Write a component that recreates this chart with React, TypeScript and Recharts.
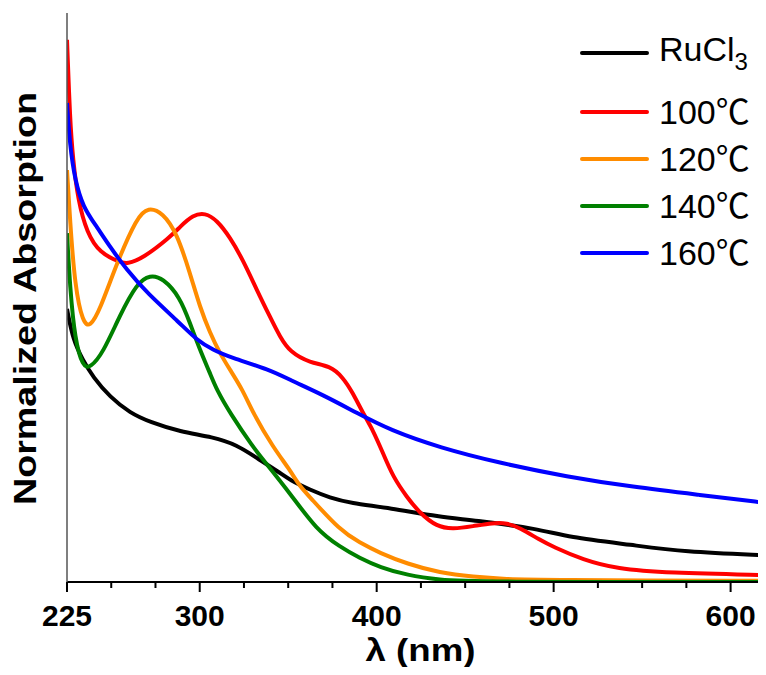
import React from "react"
import { LineChart, Line, XAxis, YAxis, Legend, Label } from "recharts"

// wavelength (nm) and normalized absorption
const ruWl = [225, 228.4, 234, 239.7, 249.3, 260.6, 271.9, 288.8, 307.5, 321, 332.3, 345.3, 351, 362.3, 373.6, 384.9, 407.5, 435.7, 454.4, 492.2, 507.5, 544.8, 573, 620]
const ruAbs = [0.48, 0.425, 0.39, 0.36, 0.325, 0.297, 0.281, 0.264, 0.255, 0.241, 0.218, 0.192, 0.179, 0.162, 0.148, 0.139, 0.13, 0.114, 0.109, 0.093, 0.079, 0.065, 0.053, 0.047]

const t100Wl = [225, 226.7, 228.4, 231.2, 236.3, 243.6, 254.9, 258.9, 267.9, 283.2, 288.8, 296.2, 303, 309.7, 317.1, 324.4, 332.3, 339.7, 345.3, 351, 362.3, 373.6, 380.9, 386.6, 392.2, 397.9, 403.5, 409.2, 417.1, 424.4, 434, 443.1, 454.4, 465.7, 473.6, 480.9, 492.2, 499.6, 516.5, 535.7, 564, 620]
const t100Abs = [0.953, 0.812, 0.742, 0.671, 0.613, 0.578, 0.562, 0.559, 0.569, 0.606, 0.624, 0.645, 0.649, 0.636, 0.606, 0.566, 0.513, 0.466, 0.431, 0.404, 0.385, 0.38, 0.36, 0.332, 0.297, 0.267, 0.227, 0.185, 0.149, 0.121, 0.097, 0.093, 0.098, 0.104, 0.104, 0.095, 0.074, 0.062, 0.039, 0.023, 0.016, 0.012]

const t120Wl = [225, 226.7, 229.5, 234, 238, 243.6, 253.2, 264.5, 270.8, 279.2, 287.1, 294.5, 300.1, 305.8, 311.4, 317.1, 324.4, 330.1, 341.4, 351, 356.1, 362.3, 379.2, 390.4, 401.8, 417.1, 435.7, 454.4, 473.6, 492.2, 620]
const t120Abs = [0.724, 0.636, 0.518, 0.455, 0.448, 0.478, 0.561, 0.641, 0.659, 0.649, 0.613, 0.543, 0.483, 0.438, 0.402, 0.373, 0.337, 0.297, 0.237, 0.197, 0.17, 0.149, 0.091, 0.069, 0.051, 0.032, 0.016, 0.009, 0.005, 0.0035, 0.002]

const t140Wl = [225, 226.7, 229.5, 234, 238, 245.3, 254.9, 264.5, 271.9, 279.2, 288.8, 294.5, 300.1, 305.8, 309.7, 317.1, 330.1, 336.9, 351, 366.2, 379.2, 390.4, 401.8, 417.1, 435.7, 454.4, 620]
const t140Abs = [0.613, 0.518, 0.425, 0.378, 0.376, 0.402, 0.469, 0.525, 0.54, 0.534, 0.501, 0.455, 0.408, 0.367, 0.337, 0.297, 0.237, 0.211, 0.156, 0.091, 0.062, 0.042, 0.026, 0.012, 0.0035, 0, 0]

const t160Wl = [225, 226.7, 229.5, 234, 241.9, 249.3, 258.9, 270.2, 288.8, 298.4, 307.5, 317.1, 339.7, 351, 369.6, 388.8, 407.5, 435.7, 469.6, 507.5, 544.8, 582.6, 620]
const t160Abs = [0.842, 0.765, 0.707, 0.659, 0.624, 0.589, 0.548, 0.508, 0.455, 0.425, 0.408, 0.395, 0.373, 0.355, 0.329, 0.297, 0.267, 0.236, 0.209, 0.185, 0.167, 0.153, 0.139]

const seriesNames = ["RuCl3", "100℃", "120℃", "140℃", "160℃"]
const seriesColors = ["#000000", "#ff0000", "#ff8c00", "#008000", "#0000ff"]

const xTicks = [225, 250, 275, 300, 325, 350, 375, 400, 425, 450, 475, 500, 525, 550, 575, 600]
const xTickLabels = [225, 300, 400, 500, 600]

const toPoints = (wl: number[], abs: number[]) => wl.map((w, i) => ({ wl: w, v: abs[i] }))

const series = [
  toPoints(ruWl, ruAbs),
  toPoints(t100Wl, t100Abs),
  toPoints(t120Wl, t120Abs),
  toPoints(t140Wl, t140Abs),
  toPoints(t160Wl, t160Abs),
]

const boldFont = "Arial, 'Liberation Sans', sans-serif"

function XTick(props: any) {
  const { x, y, payload } = props
  const major = xTickLabels.includes(payload.value)
  return (
    <g>
      <line x1={x} x2={x} y1={y} y2={y + (major ? 10 : 6)} stroke="#000" strokeWidth={2} />
      {major && (
        <text x={x} y={y + 44} textAnchor="middle" fontSize={30} fontWeight="bold" fontFamily={boldFont} fill="#000">
          {payload.value}
        </text>
      )}
    </g>
  )
}

function LegendBox() {
  return (
    <div style={{ fontFamily: "Arial, 'Liberation Sans', 'Noto Sans CJK SC', sans-serif", fontSize: 34, color: "#000" }}>
      {seriesNames.map((name, i) => (
        <div
          key={name}
          style={{ display: "flex", alignItems: "center", height: 47, marginBottom: i === 0 ? 12 : 0, lineHeight: 1 }}
        >
          <div style={{ width: 69, height: 4, borderRadius: 2, background: seriesColors[i], marginRight: 10 }} />
          <span style={{ whiteSpace: "nowrap" }}>
            {name === "RuCl3" ? (
              <>
                RuCl<sub style={{ fontSize: 24, verticalAlign: -9 }}>3</sub>
              </>
            ) : (
              name
            )}
          </span>
        </div>
      ))}
    </div>
  )
}

export default function App() {
  return (
    <div style={{ width: 758, height: 659 }}>
      <LineChart width={758} height={659} margin={{ top: 5, right: 0, left: 0, bottom: 0 }}>
        <XAxis
          type="number"
          dataKey="wl"
          domain={[225, 620]}
          allowDataOverflow
          ticks={xTicks}
          interval={0}
          tickSize={0}
          tickMargin={0}
          tickLine={false}
          tick={<XTick />}
          axisLine={{ stroke: "#000", strokeWidth: 2 }}
          height={85}
        >
          <Label
            content={({ viewBox }: any) => (
              <text
                x={viewBox.x + viewBox.width / 2 + 4}
                y={viewBox.y + 79}
                textAnchor="middle"
                fontSize={31}
                fontWeight="bold"
                fontFamily={boldFont}
                textLength={110}
                lengthAdjust="spacingAndGlyphs"
                fill="#000"
              >
                λ (nm)
              </text>
            )}
          />
        </XAxis>
        <XAxis
          xAxisId="top"
          orientation="top"
          type="number"
          dataKey="wl"
          domain={[225, 620]}
          allowDataOverflow
          tick={false}
          tickLine={false}
          height={0}
          axisLine={{ stroke: "#333", strokeWidth: 2 }}
        />
        <YAxis
          type="number"
          domain={[0, 1]}
          allowDataOverflow
          tick={false}
          tickLine={false}
          width={59}
          axisLine={{ stroke: "#555", strokeWidth: 1.5 }}
        >
          <Label
            content={({ viewBox }: any) => (
              <text
                x={28}
                y={viewBox.y + viewBox.height / 2 + 1}
                transform={`rotate(-90, 28, ${viewBox.y + viewBox.height / 2 + 1})`}
                textAnchor="middle"
                fontSize={31}
                fontWeight="bold"
                fontFamily={boldFont}
                textLength={413}
                lengthAdjust="spacingAndGlyphs"
                fill="#000"
              >
                Normalized Absorption
              </text>
            )}
          />
        </YAxis>
        {series.map((pts, i) => (
          <Line
            key={seriesNames[i]}
            data={pts}
            dataKey="v"
            name={seriesNames[i]}
            type="basis"
            stroke={seriesColors[i]}
            strokeWidth={4}
            dot={false}
            isAnimationActive={false}
          />
        ))}
        <Legend
          layout="vertical"
          verticalAlign="middle"
          align="center"
          content={<LegendBox />}
          wrapperStyle={{ left: 572, top: 21, width: 186, height: 260 }}
        />
      </LineChart>
    </div>
  )
}
